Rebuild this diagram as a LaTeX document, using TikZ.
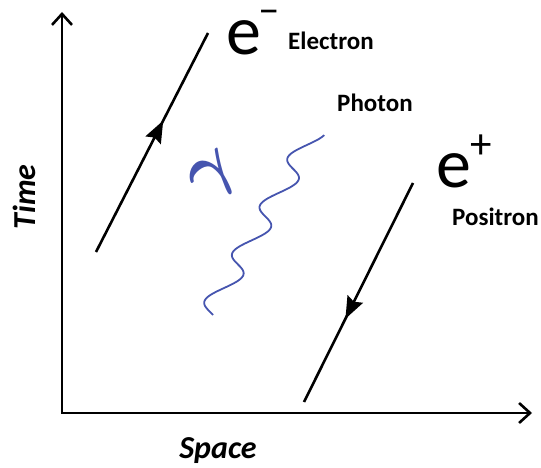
\documentclass[tikz,border=0pt]{standalone}
\usepackage{amsmath}
\usepackage{fontspec}
\setmainfont{Carlito}
\usetikzlibrary{arrows.meta,decorations.markings}
\definecolor{photonblue}{RGB}{70,85,175}
\begin{document}
\begin{tikzpicture}[x=1pt,y=-1pt,
  axisline/.style={line width=2.6pt, line join=miter, {Straight Barb[length=11pt,width=20pt]}-{Straight Barb[length=11pt,width=20pt]}},
  particle/.style={line width=2.6pt},
  midarrow/.style={postaction={decorate}, decoration={markings, mark=at position #1 with {\arrow{Stealth[length=22pt,width=17pt,inset=3pt]}}}},
  lbl/.style={inner sep=0pt, anchor=base west, font=\fontsize{25}{25}\selectfont\bfseries},
  axlbl/.style={inner sep=0pt, anchor=base, font=\fontsize{32}{32}\selectfont\bfseries\itshape, text=black},
  bige/.style={inner sep=0pt, anchor=base west, font=\fontsize{70}{70}\selectfont},
  charge/.style={inner sep=0pt, anchor=base west, font=\fontsize{43}{43}\selectfont},
  photon/.style={line width=1.8pt, draw=photonblue}]
\useasboundingbox (0,0) rectangle (541,468);
% axes
\coordinate (O) at (62,413);
\coordinate (Tt) at (62,12);
\coordinate (Xt) at (532,413);
\draw[axisline] (Tt) -- (O) -- (Xt);
\node[axlbl, rotate=90] (time) at (35,197) {Time};
\node[axlbl] (space) at (218,458) {Space};
% electron
\coordinate (e1) at (96,252);
\coordinate (e2) at (208,33);
\draw[particle, midarrow=0.6] (e1) -- (e2);
\node[bige] (em) at (226,55) {e};
\node[charge] (emsign) at (258,24) {–};
\node[lbl] (elec) at (288,50) {Electron};
% positron
\coordinate (p1) at (413,183);
\coordinate (p2) at (304,402);
\draw[particle, midarrow=0.62] (p1) -- (p2);
\node[bige] (ep) at (436,187) {e};
\node[charge] (epsign) at (470,159) {+};
\node[lbl] (posi) at (452,225) {Positron};
% photon
\node[lbl] (phot) at (337,112) {Photon};
\draw[photon] plot[smooth, domain=0:1, samples=160, variable=\t]
  ({208.3 + 104.4*\t + 12*sin(1358.5*\t - 203.2)}, {315-180*\t});
\node[inner sep=0pt, text=photonblue, rotate=38, scale=2.8, font=\Huge] (gam) at (215,178) {$\boldsymbol{\gamma}$};
\end{tikzpicture}
\end{document}
